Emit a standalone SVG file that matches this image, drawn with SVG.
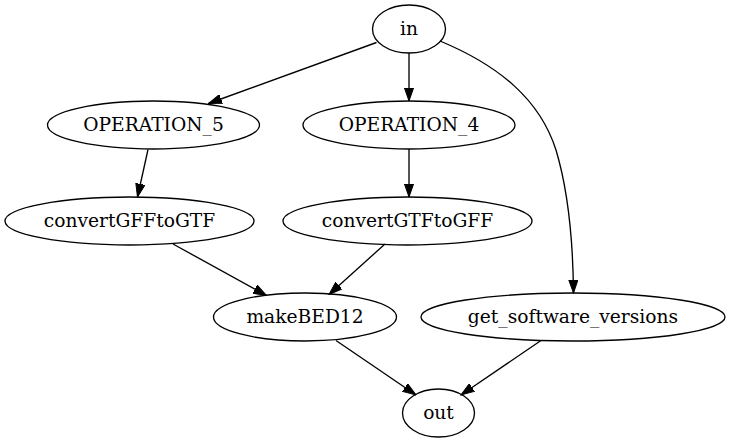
<svg xmlns="http://www.w3.org/2000/svg" width="731" height="443" viewBox="0 0 731 443">
<style>
.node ellipse{fill:none;stroke:#000;stroke-width:1.33}
.node text{font-family:"DejaVu Serif","Liberation Serif",serif;font-size:18.67px;text-anchor:middle;fill:#000}
.edge{fill:none;stroke:#000;stroke-width:1.33;marker-end:url(#arrow)}
</style>
<defs>
<marker id="arrow" markerUnits="userSpaceOnUse" markerWidth="14" markerHeight="10" refX="13.3" refY="4.67" orient="auto" viewBox="0 0 14 9.34">
<path d="M0,0 L13.3,4.67 L0,9.34 z" fill="#000" stroke="#000" stroke-width="1"/>
</marker>
</defs>
<rect width="731" height="443" fill="#fff"/>
<g id="connectors">
<path class="edge" d="M376.5,42.5 L208.5,103.5"/>
<path class="edge" d="M409,53 L409,101"/>
<path class="edge" d="M440,41 C500,66 540,100 556,150 C568,190 573,240 573.5,293"/>
<path class="edge" d="M148,149.5 L137.5,197"/>
<path class="edge" d="M409,149 L409,197"/>
<path class="edge" d="M173,244 L266.5,295.5"/>
<path class="edge" d="M385,244 L329,294.5"/>
<path class="edge" d="M336,340.5 L416,395"/>
<path class="edge" d="M541,340.5 L461,395"/>
</g>
<g id="in" class="node"><ellipse cx="409" cy="29" rx="36.5" ry="24"/><text x="409" y="35">in</text></g>
<g id="OPERATION_5" class="node"><ellipse cx="153.5" cy="125" rx="106" ry="24"/><text x="153.5" y="131">OPERATION_5</text></g>
<g id="OPERATION_4" class="node"><ellipse cx="409" cy="125" rx="106" ry="24"/><text x="409" y="131">OPERATION_4</text></g>
<g id="convertGFFtoGTF" class="node"><ellipse cx="129.5" cy="221" rx="124.5" ry="24"/><text x="129.5" y="227">convertGFFtoGTF</text></g>
<g id="convertGTFtoGFF" class="node"><ellipse cx="407.5" cy="221" rx="124.5" ry="24"/><text x="407.5" y="227">convertGTFtoGFF</text></g>
<g id="makeBED12" class="node"><ellipse cx="305" cy="317" rx="91.5" ry="24"/><text x="305" y="323">makeBED12</text></g>
<g id="get_software_versions" class="node"><ellipse cx="573" cy="317" rx="152" ry="24"/><text x="573" y="323">get_software_versions</text></g>
<g id="out" class="node"><ellipse cx="438.5" cy="413" rx="36" ry="24"/><text x="438.5" y="419">out</text></g>
</svg>
